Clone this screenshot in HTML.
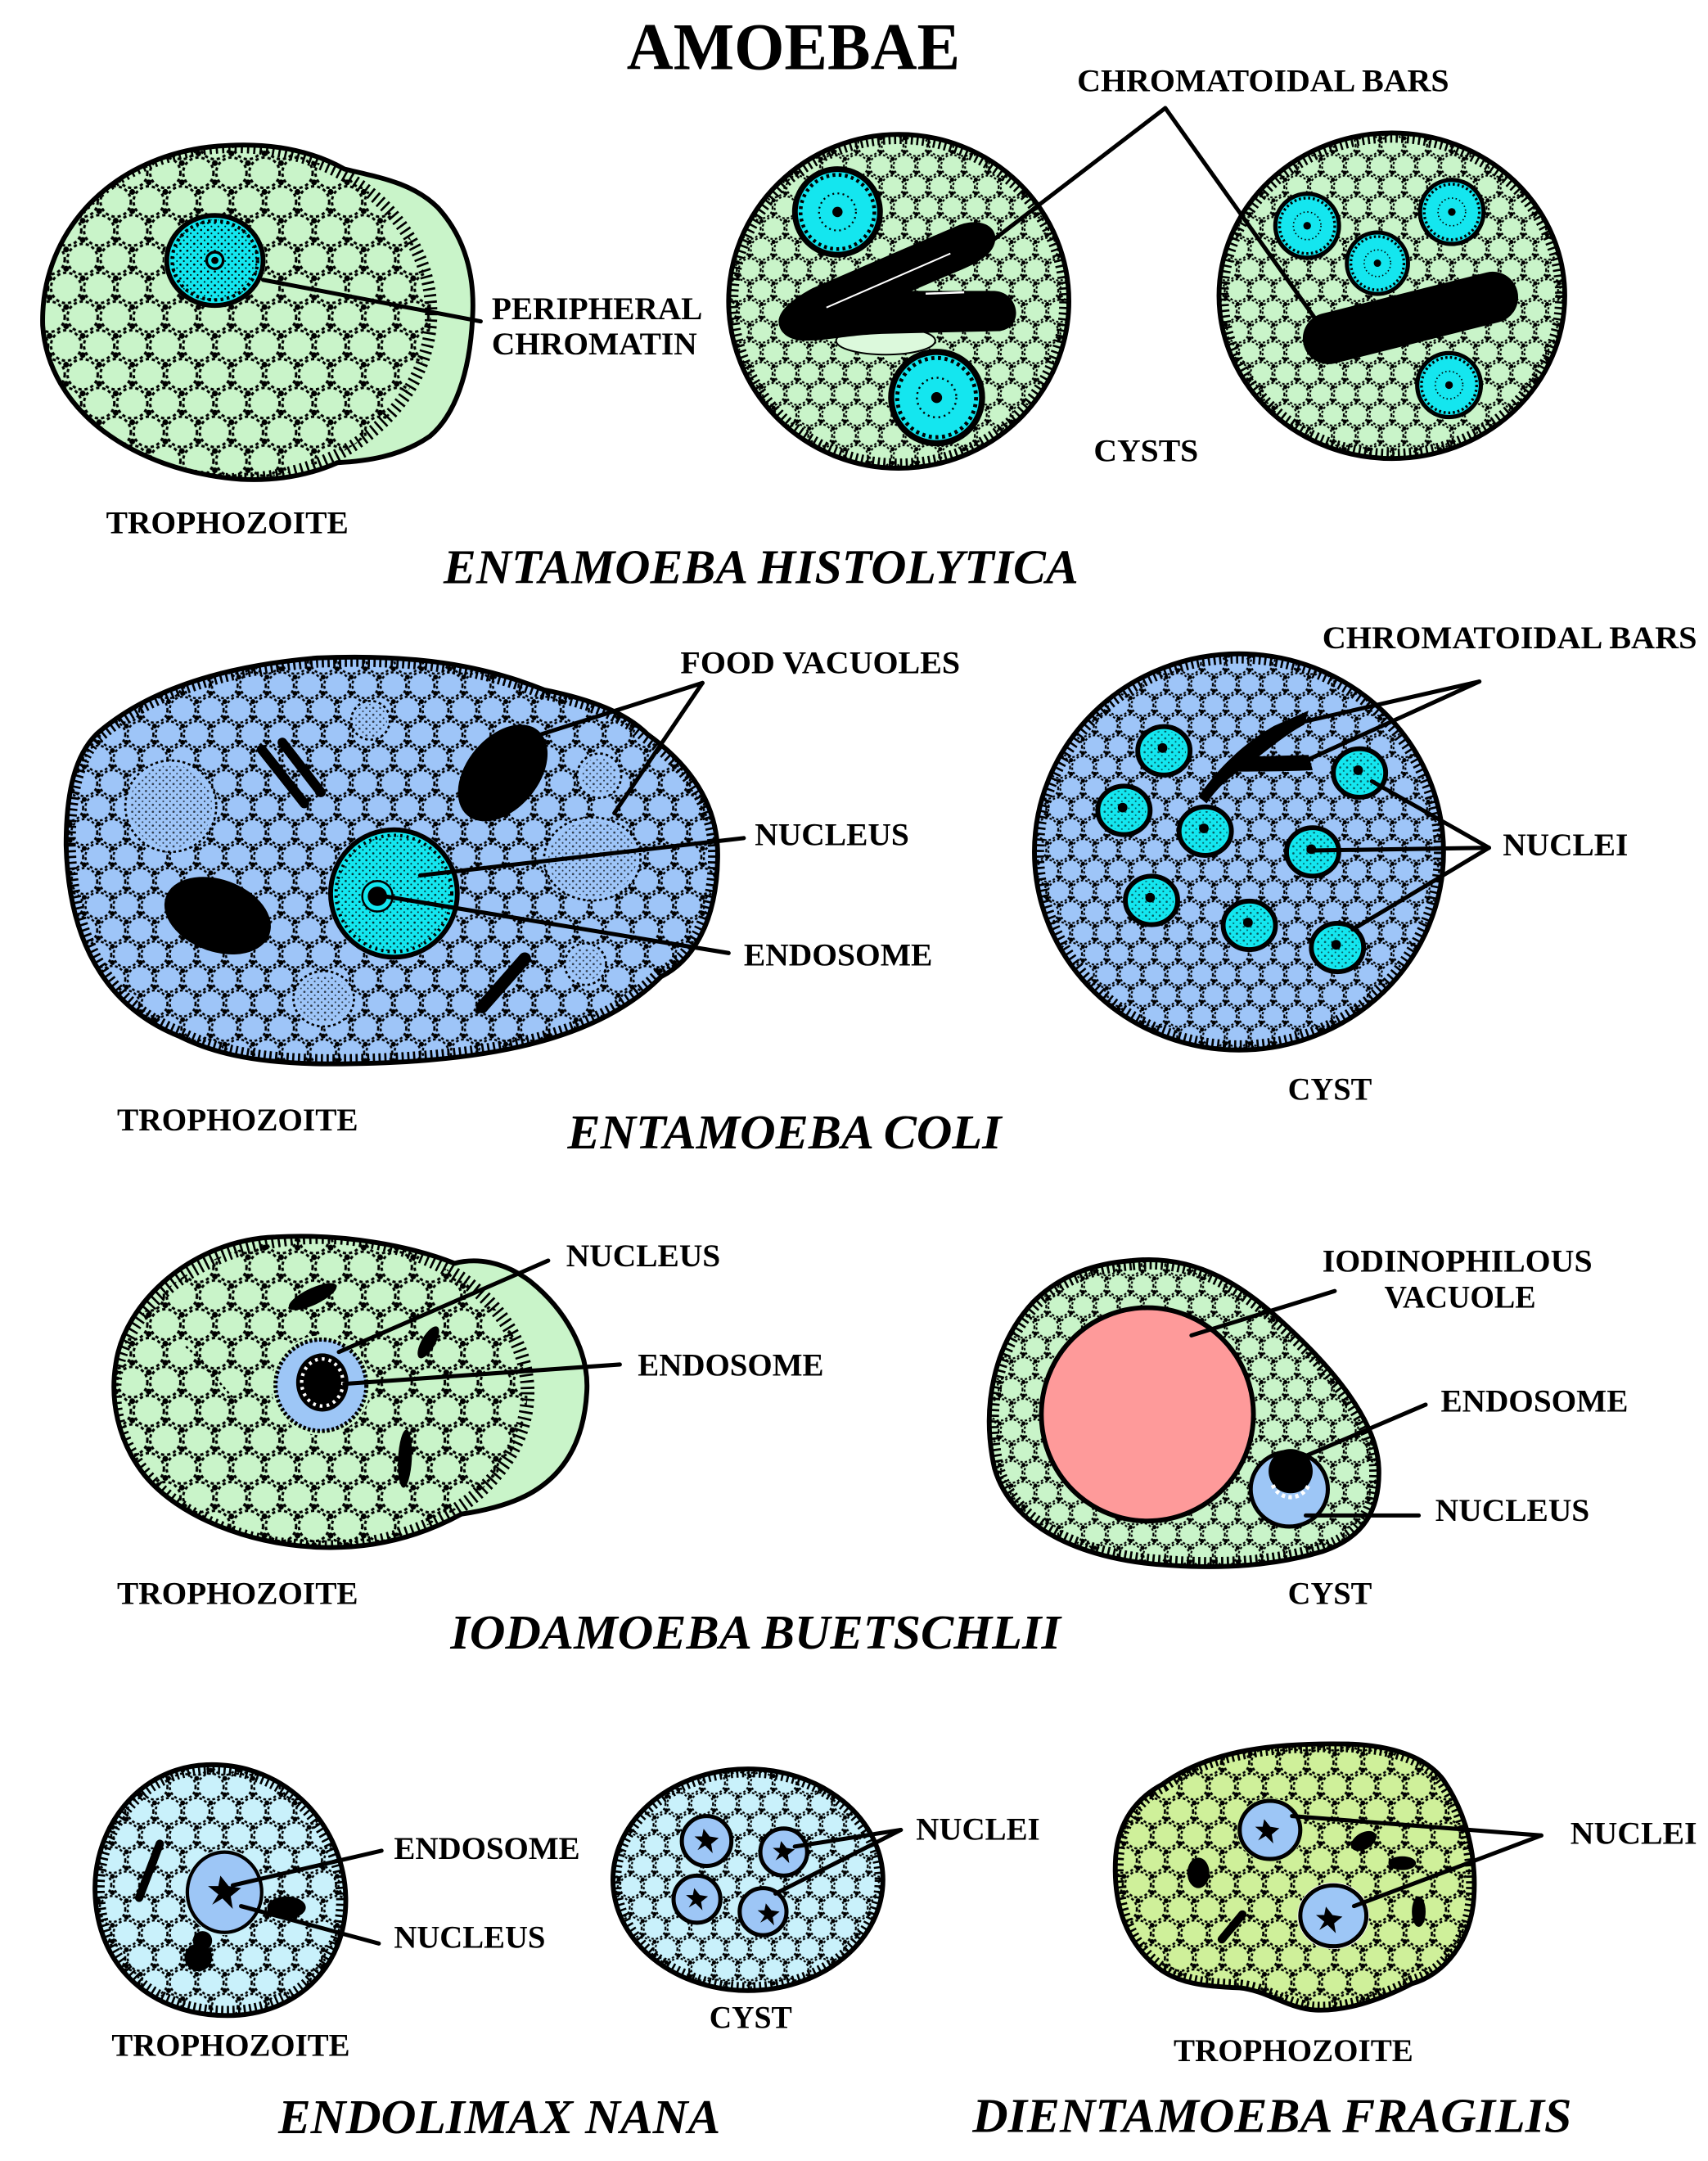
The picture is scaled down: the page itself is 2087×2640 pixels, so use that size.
<!DOCTYPE html>
<html><head><meta charset="utf-8"><style>
html,body{margin:0;padding:0;background:#fff;}
svg{display:block;}
text{font-family:"Liberation Serif","Times New Roman",serif;font-weight:bold;fill:#000;}
.l{font-size:23px;}
.sp{font-size:35px;font-style:italic;}
.ld{stroke:#000;stroke-width:3;fill:none;stroke-linecap:round;}
</style></head><body>
<svg width="2087" height="2640" viewBox="0 0 1240 1560" preserveAspectRatio="none" xmlns="http://www.w3.org/2000/svg" xmlns:xlink="http://www.w3.org/1999/xlink">
<defs>
<g id="pc">
 <g fill="none" stroke="#000" stroke-width="1.8" stroke-dasharray="2.4 2.1">
  <circle cx="0" cy="0" r="11"/><circle cx="24" cy="0" r="11"/><circle cx="12" cy="20.78" r="11"/><circle cx="0" cy="41.57" r="11"/><circle cx="24" cy="41.57" r="11"/>
 </g>
 <g fill="#000"><circle cx="12" cy="6.93" r="2.1"/><circle cx="0" cy="13.85" r="2.1"/><circle cx="24" cy="13.85" r="2.1"/><circle cx="0" cy="27.71" r="2.1"/><circle cx="24" cy="27.71" r="2.1"/><circle cx="12" cy="34.64" r="2.1"/></g>
</g>
<pattern id="pL" width="24" height="41.57" patternUnits="userSpaceOnUse"><use href="#pc"/></pattern>
<pattern id="pM" width="24" height="41.57" patternUnits="userSpaceOnUse" patternTransform="scale(0.85)"><use href="#pc"/></pattern>
<pattern id="pS" width="24" height="41.57" patternUnits="userSpaceOnUse" patternTransform="scale(0.72)"><use href="#pc"/></pattern>
<pattern id="pD" width="5" height="5" patternUnits="userSpaceOnUse"><circle cx="1" cy="1" r="0.8" fill="#000"/><circle cx="3.5" cy="3.5" r="0.6" fill="#000"/></pattern>

<path id="b1" d="M 166,105 C 205,103 232,112 250,122 C 275,128 300,132 318,150 C 338,172 345,200 343,230 C 341,270 330,300 312,315 C 290,330 265,333 245,334 C 220,345 195,347 175,346 C 95,340 35,295 31,235 C 29,165 85,108 166,105 Z"/>
<path id="b3" d="M 48,610 C 48,570 55,545 70,530 C 110,495 170,480 230,475 C 300,472 350,480 395,498 C 430,505 455,515 470,530 C 505,555 522,585 521,620 C 520,670 500,695 480,705 C 440,745 370,768 240,768 C 180,768 150,758 130,748 C 85,730 50,690 48,610 Z"/>
<path id="b5" d="M 200,893 C 250,890 300,900 330,912 C 345,908 365,910 385,925 C 410,945 428,975 426,1005 C 424,1040 410,1062 390,1075 C 375,1085 355,1090 335,1093 C 300,1112 265,1118 233,1117 C 180,1115 130,1095 105,1065 C 85,1040 80,1010 84,985 C 90,940 140,895 200,893 Z"/>
<path id="b6" d="M 822,910 C 870,905 905,930 935,958 C 975,995 1000,1030 1001,1060 C 1002,1090 990,1110 960,1120 C 920,1132 880,1132 850,1130 C 790,1127 735,1105 722,1060 C 712,1015 722,970 750,940 C 770,920 795,912 822,910 Z"/>
<path id="b7" d="M 150,1274 C 210,1272 250,1320 251,1370 C 252,1420 215,1455 165,1455 C 110,1455 70,1420 69,1365 C 68,1320 100,1276 150,1274 Z"/>
<path id="b9" d="M 844,1288 C 880,1262 930,1258 979,1259 C 1010,1260 1035,1268 1048,1285 C 1065,1310 1072,1340 1070,1370 C 1068,1400 1050,1425 1025,1432 C 1000,1445 975,1452 955,1451 C 935,1450 920,1437 900,1435 C 875,1434 855,1432 840,1420 C 815,1400 808,1370 810,1340 C 812,1315 825,1298 844,1288 Z"/>

<clipPath id="c1"><use href="#b1"/></clipPath>
<clipPath id="c3"><use href="#b3"/></clipPath>
<clipPath id="c5"><use href="#b5"/></clipPath>
<clipPath id="c6"><use href="#b6"/></clipPath>
<clipPath id="c7"><use href="#b7"/></clipPath>
<clipPath id="c9"><use href="#b9"/></clipPath>
<clipPath id="cc1"><ellipse cx="652.5" cy="217.5" rx="123.5" ry="120.5"/></clipPath>
<clipPath id="cc2"><ellipse cx="1010.5" cy="213.5" rx="125.5" ry="117.5"/></clipPath>
<clipPath id="cc4"><ellipse cx="899.5" cy="615" rx="148.5" ry="143"/></clipPath>
<clipPath id="cc8"><ellipse cx="543" cy="1357" rx="98" ry="80"/></clipPath>

<g id="nh">
 <circle r="30" fill="#14e6ef" stroke="#000" stroke-width="4"/>
 <circle r="26" fill="none" stroke="#000" stroke-width="2.6" stroke-dasharray="2 2.4"/>
 <circle r="13" fill="none" stroke="#000" stroke-width="1.3" stroke-dasharray="1.2 2.4"/>
 <circle r="3.6" fill="#000"/>
</g>
<g id="nc">
 <ellipse rx="19" ry="17.5" fill="#14e6ef" stroke="#000" stroke-width="3.5"/>
 <ellipse rx="16" ry="14.5" fill="url(#pD)" opacity="0.6"/>
 <circle cx="-1" cy="-2" r="3.5" fill="#000"/>
</g>
<path id="star" d="M-8,-3 L-3,-3 L-2,-8 L2,-3 L8,-2 L3,2 L4,8 L-1,3 L-6,6 L-3,1 Z" fill="#000"/>
</defs>

<rect width="1240" height="1560" fill="#fff"/>

<!-- ROW 1 -->
<text x="455" y="50" style="font-size:48px" textLength="242" lengthAdjust="spacingAndGlyphs">AMOEBAE</text>

<!-- E. histolytica trophozoite -->
<use href="#b1" fill="#c9f4c9"/>
<g clip-path="url(#c1)">
 <ellipse cx="170" cy="226" rx="143" ry="120" fill="url(#pL)"/>
 <ellipse cx="170" cy="226" rx="143" ry="120" fill="none" stroke="#000" stroke-width="9" stroke-dasharray="1.6 3"/>
</g>
<use href="#b1" fill="none" stroke="#000" stroke-width="3.5"/>
<ellipse cx="156" cy="188" rx="37" ry="34" fill="#c9f4c9"/>
<ellipse cx="156" cy="188" rx="35" ry="32.5" fill="#14e6ef" stroke="#000" stroke-width="3.5"/>
<ellipse cx="156" cy="188" rx="32" ry="29.5" fill="url(#pD)"/>
<ellipse cx="156" cy="188" rx="31" ry="28.5" fill="none" stroke="#000" stroke-width="2.5" stroke-dasharray="2 2.5"/>
<circle cx="156" cy="188" r="6" fill="#14e6ef" stroke="#000" stroke-width="2"/>
<circle cx="156" cy="188" r="2.6" fill="#000"/>
<line class="ld" x1="191" y1="202" x2="349" y2="232"/>
<text class="l" x="357" y="230.5" textLength="153" lengthAdjust="spacingAndGlyphs">PERIPHERAL</text>
<text class="l" x="357" y="256" textLength="149" lengthAdjust="spacingAndGlyphs">CHROMATIN</text>
<text class="l" x="77" y="385" textLength="176" lengthAdjust="spacingAndGlyphs">TROPHOZOITE</text>

<!-- Cyst 1 -->
<ellipse cx="652.5" cy="217.5" rx="123.5" ry="120.5" fill="#c9f4c9"/>
<g clip-path="url(#cc1)">
 <ellipse cx="652.5" cy="217.5" rx="123.5" ry="120.5" fill="url(#pS)"/>
 <ellipse cx="652.5" cy="217.5" rx="123.5" ry="120.5" fill="none" stroke="#000" stroke-width="14" stroke-dasharray="1.6 2.6"/>
</g>
<ellipse cx="652.5" cy="217.5" rx="123.5" ry="120.5" fill="none" stroke="#000" stroke-width="3.5"/>
<use href="#nh" transform="translate(608,153) scale(1.03)"/>
<use href="#nh" transform="translate(680,287) scale(1.1)"/>
<ellipse cx="643" cy="246" rx="36" ry="10" fill="#dcf9dc" stroke="#000" stroke-width="1.2"/>
<path d="M 566,236 C 562,226 575,216 590,208 L 695,163 C 712,156 726,164 722,176 C 719,186 705,192 690,198 L 662,210 L 722,210 C 740,211 744,236 726,239 L 640,241 C 615,242 600,246 585,246 C 575,246 568,242 566,236 Z" fill="#000"/>
<path d="M 600,222 L 690,183" stroke="#fff" stroke-width="1.2" fill="none"/>
<path d="M 672,212 L 700,211" stroke="#fff" stroke-width="1.5" fill="none"/>

<!-- Cyst 2 -->
<ellipse cx="1010.5" cy="213.5" rx="125.5" ry="117.5" fill="#c9f4c9"/>
<g clip-path="url(#cc2)">
 <ellipse cx="1010.5" cy="213.5" rx="125.5" ry="117.5" fill="url(#pS)"/>
 <ellipse cx="1010.5" cy="213.5" rx="125.5" ry="117.5" fill="none" stroke="#000" stroke-width="14" stroke-dasharray="1.6 2.6"/>
</g>
<ellipse cx="1010.5" cy="213.5" rx="125.5" ry="117.5" fill="none" stroke="#000" stroke-width="3.5"/>
<use href="#nh" transform="translate(949,163) scale(0.77)"/>
<use href="#nh" transform="translate(1054,153) scale(0.77)"/>
<use href="#nh" transform="translate(1000,190) scale(0.74)"/>
<use href="#nh" transform="translate(1052,278) scale(0.77)"/>
<rect x="944" y="211" width="160" height="37" rx="18.5" fill="#000" transform="rotate(-14 1024 229.5)"/>

<line class="ld" x1="846" y1="78" x2="720" y2="174"/>
<line class="ld" x1="846" y1="78" x2="957" y2="233"/>
<text class="l" x="782" y="66" textLength="270" lengthAdjust="spacingAndGlyphs">CHROMATOIDAL BARS</text>
<text class="l" x="794" y="333" textLength="76" lengthAdjust="spacingAndGlyphs">CYSTS</text>
<text class="sp" x="322" y="421" textLength="461" lengthAdjust="spacingAndGlyphs">ENTAMOEBA HISTOLYTICA</text>

<!-- ROW 2: E. coli trophozoite -->
<use href="#b3" fill="#9ec5f8"/>
<g clip-path="url(#c3)">
 <rect x="40" y="465" width="490" height="310" fill="url(#pM)"/>
 <use href="#b3" fill="none" stroke="#000" stroke-width="14" stroke-dasharray="1.6 2.6"/>
</g>
<use href="#b3" fill="none" stroke="#000" stroke-width="3.5"/>
<!-- food vacuoles -->
<g stroke="#000" stroke-width="1.6" stroke-dasharray="2 2">
 <circle cx="124" cy="582" r="33" fill="#9ec5f8"/>
 <circle cx="269" cy="520" r="14" fill="#9ec5f8"/>
 <ellipse cx="430" cy="620" rx="35" ry="30" fill="#9ec5f8"/>
 <circle cx="435" cy="560" r="16" fill="#9ec5f8"/>
 <ellipse cx="235" cy="721" rx="22" ry="20" fill="#9ec5f8"/>
 <circle cx="425" cy="696" r="15" fill="#9ec5f8"/>
</g>
<g fill="url(#pD)" opacity="0.7">
 <circle cx="124" cy="582" r="30"/>
 <circle cx="269" cy="520" r="12"/>
 <ellipse cx="430" cy="620" rx="32" ry="27"/>
 <circle cx="435" cy="560" r="13"/>
 <ellipse cx="235" cy="721" rx="19" ry="17"/>
 <circle cx="425" cy="696" r="12"/>
</g>
<ellipse cx="365" cy="558" rx="40" ry="26" transform="rotate(-50 365 558)" fill="#000"/>
<ellipse cx="158" cy="661" rx="40" ry="26" transform="rotate(20 158 661)" fill="#000"/>
<line x1="190" y1="541" x2="221" y2="580" stroke="#000" stroke-width="7" stroke-linecap="round"/>
<line x1="205" y1="536" x2="233" y2="572" stroke="#000" stroke-width="7" stroke-linecap="round"/>
<line x1="350" y1="727" x2="381" y2="692" stroke="#000" stroke-width="9" stroke-linecap="round"/>
<circle cx="286" cy="645" r="48" fill="#9ec5f8"/>
<circle cx="286" cy="645" r="46" fill="#14e6ef" stroke="#000" stroke-width="3.5"/>
<circle cx="286" cy="645" r="42" fill="url(#pD)" opacity="0.8"/>
<circle cx="286" cy="645" r="42" fill="none" stroke="#000" stroke-width="2.4" stroke-dasharray="1.6 3"/>
<circle cx="274" cy="647" r="11" fill="#14e6ef" stroke="#000" stroke-width="1.5"/>
<circle cx="274" cy="647" r="7" fill="#000"/>
<line class="ld" x1="510" y1="493" x2="390" y2="531"/>
<line class="ld" x1="510" y1="493" x2="446" y2="587"/>
<line class="ld" x1="540" y1="605" x2="305" y2="632"/>
<line class="ld" x1="529" y1="688" x2="279" y2="647"/>
<text class="l" x="494" y="486" textLength="203" lengthAdjust="spacingAndGlyphs">FOOD VACUOLES</text>
<text class="l" x="548" y="610" textLength="112" lengthAdjust="spacingAndGlyphs">NUCLEUS</text>
<text class="l" x="540" y="697" textLength="137" lengthAdjust="spacingAndGlyphs">ENDOSOME</text>
<text class="l" x="85" y="816" textLength="175" lengthAdjust="spacingAndGlyphs">TROPHOZOITE</text>

<!-- E. coli cyst -->
<ellipse cx="899.5" cy="615" rx="148.5" ry="143" fill="#9ec5f8"/>
<g clip-path="url(#cc4)">
 <ellipse cx="899.5" cy="615" rx="148.5" ry="143" fill="url(#pS)"/>
 <ellipse cx="899.5" cy="615" rx="148.5" ry="143" fill="none" stroke="#000" stroke-width="14" stroke-dasharray="1.6 2.6"/>
</g>
<ellipse cx="899.5" cy="615" rx="148.5" ry="143" fill="none" stroke="#000" stroke-width="3.5"/>
<use href="#nc" transform="translate(845,542)"/>
<use href="#nc" transform="translate(816,585)"/>
<use href="#nc" transform="translate(875,600)"/>
<use href="#nc" transform="translate(953,615)"/>
<use href="#nc" transform="translate(987,558)"/>
<use href="#nc" transform="translate(836,650)"/>
<use href="#nc" transform="translate(907,668)"/>
<use href="#nc" transform="translate(971,684)"/>
<path d="M 870,575 C 882,558 900,538 925,524 L 950,513 L 947,523 C 934,530 922,540 914,546 L 950,545 L 953,556 C 935,557 915,557 899,557 C 890,563 882,571 876,580 Z" fill="#000"/>
<line class="ld" x1="1074" y1="492" x2="942" y2="522"/>
<line class="ld" x1="1074" y1="492" x2="946" y2="550"/>
<line class="ld" x1="1081" y1="612" x2="996" y2="564"/>
<line class="ld" x1="1081" y1="612" x2="950" y2="614"/>
<line class="ld" x1="1081" y1="612" x2="982" y2="671"/>
<text class="l" x="960" y="468" textLength="272" lengthAdjust="spacingAndGlyphs">CHROMATOIDAL BARS</text>
<text class="l" x="1091" y="617.5" textLength="91" lengthAdjust="spacingAndGlyphs">NUCLEI</text>
<text class="l" x="935" y="794" textLength="61" lengthAdjust="spacingAndGlyphs">CYST</text>
<text class="sp" x="412" y="829" textLength="315" lengthAdjust="spacingAndGlyphs">ENTAMOEBA COLI</text>

<!-- ROW 3: Iodamoeba trophozoite -->
<use href="#b5" fill="#c9f4c9"/>
<g clip-path="url(#c5)">
 <ellipse cx="233" cy="1005" rx="150" ry="112" fill="url(#pL)"/>
 <ellipse cx="233" cy="1005" rx="150" ry="112" fill="none" stroke="#000" stroke-width="10" stroke-dasharray="1.6 3"/>
</g>
<use href="#b5" fill="none" stroke="#000" stroke-width="3.5"/>
<path d="M 135,972 C 150,985 160,1000 172,1012" stroke="#000" stroke-width="1.5" stroke-dasharray="2 2" fill="none"/>
<ellipse cx="227" cy="936" rx="19" ry="6" transform="rotate(-25 227 936)" fill="#000"/>
<ellipse cx="311" cy="969" rx="13" ry="5" transform="rotate(-60 311 969)" fill="#000"/>
<ellipse cx="294" cy="1053" rx="5" ry="21" transform="rotate(3 294 1053)" fill="#000"/>
<circle cx="233" cy="1000" r="36" fill="#c9f4c9"/>
<circle cx="233" cy="1000" r="33" fill="#9dc6f6" stroke="#000" stroke-width="3" stroke-dasharray="2 1.5"/>
<ellipse cx="234" cy="998" rx="19" ry="21" fill="#000"/>
<ellipse cx="234" cy="998" rx="15" ry="17" fill="none" stroke="#fff" stroke-width="2.5" stroke-dasharray="2 3"/>
<line class="ld" x1="398" y1="910" x2="246" y2="976"/>
<line class="ld" x1="450" y1="985" x2="250" y2="999"/>
<text class="l" x="411" y="914" textLength="112" lengthAdjust="spacingAndGlyphs">NUCLEUS</text>
<text class="l" x="463" y="993" textLength="135" lengthAdjust="spacingAndGlyphs">ENDOSOME</text>
<text class="l" x="85" y="1158" textLength="175" lengthAdjust="spacingAndGlyphs">TROPHOZOITE</text>

<!-- Iodamoeba cyst -->
<use href="#b6" fill="#c9f4c9"/>
<g clip-path="url(#c6)">
 <rect x="710" y="900" width="300" height="240" fill="url(#pS)"/>
 <use href="#b6" fill="none" stroke="#000" stroke-width="14" stroke-dasharray="1.6 2.6"/>
</g>
<use href="#b6" fill="none" stroke="#000" stroke-width="3.5"/>
<ellipse cx="833" cy="1021" rx="77" ry="77" fill="#fe9a9a" stroke="#000" stroke-width="3.5"/>
<ellipse cx="936" cy="1075" rx="28" ry="27" fill="#9dc6f6" stroke="#000" stroke-width="3"/>
<circle cx="937" cy="1062" r="16" fill="#000"/>
<path d="M 924,1072 A 14,14 0 0 0 950,1072" fill="none" stroke="#fff" stroke-width="3" stroke-dasharray="2.5 2.5"/>
<line class="ld" x1="969" y1="932" x2="865" y2="964"/>
<line class="ld" x1="1035" y1="1014" x2="948" y2="1051"/>
<line class="ld" x1="1030" y1="1094" x2="948" y2="1094"/>
<text class="l" x="960" y="918" textLength="196" lengthAdjust="spacingAndGlyphs">IODINOPHILOUS</text>
<text class="l" x="1005" y="944" textLength="110" lengthAdjust="spacingAndGlyphs">VACUOLE</text>
<text class="l" x="1046" y="1019" textLength="136" lengthAdjust="spacingAndGlyphs">ENDOSOME</text>
<text class="l" x="1042" y="1098" textLength="112" lengthAdjust="spacingAndGlyphs">NUCLEUS</text>
<text class="l" x="935" y="1158" textLength="61" lengthAdjust="spacingAndGlyphs">CYST</text>
<text class="sp" x="327" y="1190" textLength="443" lengthAdjust="spacingAndGlyphs">IODAMOEBA BUETSCHLII</text>

<!-- ROW 4: Endolimax trophozoite -->
<use href="#b7" fill="#c9f1fb"/>
<g clip-path="url(#c7)">
 <rect x="60" y="1265" width="200" height="200" fill="url(#pM)"/>
 <use href="#b7" fill="none" stroke="#000" stroke-width="14" stroke-dasharray="1.6 2.6"/>
</g>
<use href="#b7" fill="none" stroke="#000" stroke-width="3.5"/>
<line x1="116" y1="1331" x2="101" y2="1370" stroke="#000" stroke-width="6" stroke-linecap="round"/>
<ellipse cx="208" cy="1377" rx="14" ry="8" fill="#000"/>
<circle cx="144" cy="1413" r="10" fill="#000"/>
<circle cx="147" cy="1401" r="7" fill="#000"/>
<ellipse cx="163" cy="1366" rx="29" ry="31" fill="#c9f1fb"/>
<ellipse cx="163" cy="1366" rx="27" ry="29" fill="#9dc6f6" stroke="#000" stroke-width="2.5"/>
<use href="#star" transform="translate(163,1366) scale(1.5)"/>
<line class="ld" x1="277" y1="1336" x2="169" y2="1361"/>
<line class="ld" x1="275" y1="1403" x2="175" y2="1376"/>
<text class="l" x="286" y="1342" textLength="135" lengthAdjust="spacingAndGlyphs">ENDOSOME</text>
<text class="l" x="286" y="1406" textLength="110" lengthAdjust="spacingAndGlyphs">NUCLEUS</text>
<text class="l" x="81" y="1484" textLength="173" lengthAdjust="spacingAndGlyphs">TROPHOZOITE</text>

<!-- Endolimax cyst -->
<ellipse cx="543" cy="1357" rx="98" ry="80" fill="#c9f1fb"/>
<g clip-path="url(#cc8)">
 <ellipse cx="543" cy="1357" rx="98" ry="80" fill="url(#pS)"/>
 <ellipse cx="543" cy="1357" rx="98" ry="80" fill="none" stroke="#000" stroke-width="12" stroke-dasharray="1.6 2.6"/>
</g>
<ellipse cx="543" cy="1357" rx="98" ry="80" fill="none" stroke="#000" stroke-width="3.5"/>
<g fill="#9dc6f6" stroke="#000" stroke-width="3">
 <circle cx="513" cy="1329" r="18"/>
 <circle cx="569" cy="1337" r="17"/>
 <circle cx="506" cy="1371" r="17"/>
 <circle cx="554" cy="1380" r="17"/>
</g>
<use href="#star" transform="translate(513,1329) scale(1.1)"/>
<use href="#star" transform="translate(569,1337) scale(1.0)"/>
<use href="#star" transform="translate(506,1371) scale(1.0)"/>
<use href="#star" transform="translate(558,1382) scale(1.0)"/>
<line class="ld" x1="654" y1="1321" x2="577" y2="1333"/>
<line class="ld" x1="654" y1="1321" x2="563" y2="1367"/>
<text class="l" x="665" y="1328" textLength="90" lengthAdjust="spacingAndGlyphs">NUCLEI</text>
<text class="l" x="515" y="1464" textLength="60" lengthAdjust="spacingAndGlyphs">CYST</text>
<text class="sp" x="202" y="1540" textLength="321" lengthAdjust="spacingAndGlyphs">ENDOLIMAX NANA</text>

<!-- Dientamoeba -->
<use href="#b9" fill="#cff09a"/>
<g clip-path="url(#c9)">
 <rect x="800" y="1250" width="280" height="210" fill="url(#pM)"/>
 <use href="#b9" fill="none" stroke="#000" stroke-width="12" stroke-dasharray="1.6 2.6"/>
</g>
<use href="#b9" fill="none" stroke="#000" stroke-width="3.5"/>
<ellipse cx="990" cy="1329" rx="10" ry="6" transform="rotate(-30 990 1329)" fill="#000"/>
<ellipse cx="1018" cy="1345" rx="10" ry="5" fill="#000"/>
<ellipse cx="870" cy="1352" rx="8" ry="11" fill="#000"/>
<line x1="902" y1="1382" x2="887" y2="1400" stroke="#000" stroke-width="6" stroke-linecap="round"/>
<ellipse cx="1030" cy="1380" rx="5" ry="11" fill="#000"/>
<ellipse cx="922" cy="1321" rx="24" ry="23" fill="#cff09a"/>
<ellipse cx="922" cy="1321" rx="22" ry="21" fill="#9dc6f6" stroke="#000" stroke-width="3"/>
<ellipse cx="968" cy="1383" rx="26" ry="24" fill="#fff"/>
<ellipse cx="968" cy="1383" rx="24" ry="22" fill="#9dc6f6" stroke="#000" stroke-width="3"/>
<use href="#star" transform="translate(920,1322) scale(1.1)"/>
<use href="#star" transform="translate(965,1386) scale(1.2)"/>
<line class="ld" x1="1119" y1="1325" x2="938" y2="1311"/>
<line class="ld" x1="1119" y1="1325" x2="983" y2="1376"/>
<text class="l" x="1140" y="1331" textLength="92" lengthAdjust="spacingAndGlyphs">NUCLEI</text>
<text class="l" x="852" y="1488" textLength="174" lengthAdjust="spacingAndGlyphs">TROPHOZOITE</text>
<text class="sp" x="706" y="1539" textLength="435" lengthAdjust="spacingAndGlyphs">DIENTAMOEBA FRAGILIS</text>
</svg>
</body></html>
